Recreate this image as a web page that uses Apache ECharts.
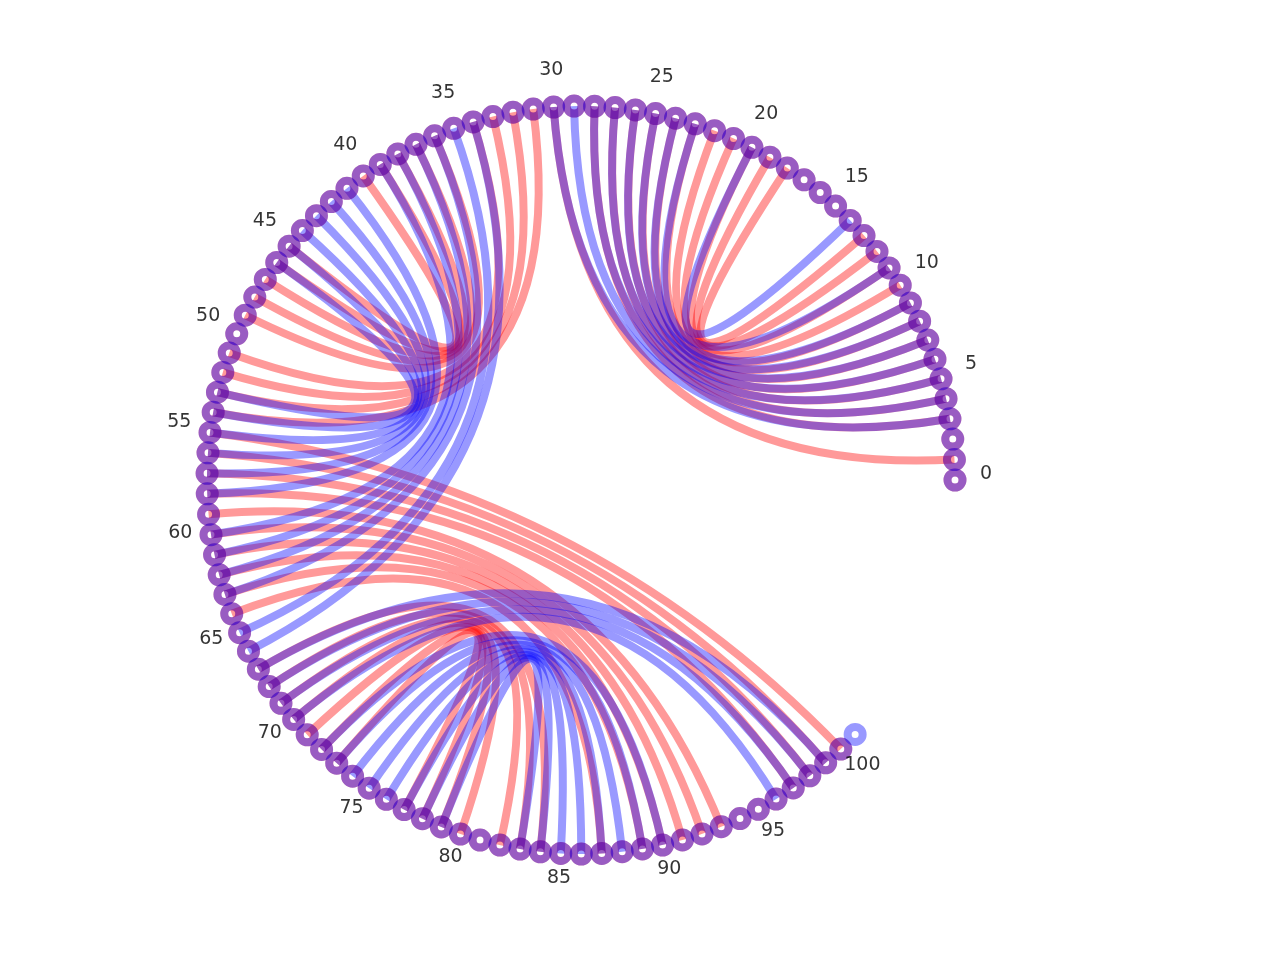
<!DOCTYPE html>
<html>
<head>
<meta charset="utf-8">
<script src="https://cdn.jsdelivr.net/npm/echarts@6/dist/echarts.min.js"></script>
<style>
html, body { margin: 0; background: #fff; }
#main { width: 1280px; height: 960px; }
</style>
</head>
<body>
<div id="main"></div>
<script>
// 两个结构的节点数 (红: 0..100, 蓝: 0..101)
var redCount = 101;
var blueCount = 102;

// 红色结构的配对
var redPairs = [
    [1, 30], [3, 28], [4, 27], [5, 26], [6, 25], [7, 24], [8, 23], [9, 22], [10, 21], [11, 20], [12, 19], [13, 18],
    [31, 54], [32, 53], [33, 52], [34, 51], [36, 49], [37, 48], [38, 47], [39, 46], [40, 45],
    [55, 100], [56, 99], [57, 98], [58, 97], [59, 93], [60, 92], [61, 91], [62, 90], [63, 89], [64, 87],
    [67, 84], [68, 83], [69, 82], [70, 80], [71, 79], [72, 78], [73, 77]
];

// 蓝色结构的配对
var bluePairs = [
    [3, 30], [4, 29], [5, 28], [6, 27], [7, 26], [8, 25], [9, 24], [11, 23], [14, 20],
    [34, 66], [35, 65], [36, 63], [37, 62], [38, 61], [39, 60], [41, 58], [42, 57], [43, 56], [44, 55], [45, 54], [46, 53],
    [67, 99], [68, 98], [69, 97], [70, 96], [72, 90], [73, 89], [74, 88], [75, 87], [76, 86], [77, 85], [78, 84], [79, 83]
];

// 刻度标签
var tickLabels = [0, 5, 10, 15, 20, 25, 30, 35, 40, 45, 50, 55, 60, 65, 70, 75, 80, 85, 90, 95, 100];

// 一整圈对应多少个节点
var turn = 114.65;

// 让贝塞尔曲线的控制点落在圆心
function curveOf(a, b) {
    var d = (b - a) / turn * 2 * Math.PI;
    return 0.5 / Math.tan(d / 2);
}

function makeNodes(n) {
    var arr = [];
    for (var i = 0; i < n; i++) {
        arr.push({ name: String(i), value: [1, i] });
    }
    return arr;
}

function makeLinks(pairs) {
    return pairs.map(function (p) {
        return {
            source: String(p[0]),
            target: String(p[1]),
            lineStyle: { curveness: curveOf(p[0], p[1]) }
        };
    });
}

function graphSeries(n, pairs, rgb) {
    return {
        type: 'graph',
        coordinateSystem: 'polar',
        layout: 'none',
        silent: true,
        symbol: 'circle',
        symbolSize: 15,
        itemStyle: {
            color: 'rgba(0,0,0,0)',
            borderColor: 'rgba(' + rgb + ',0.4)',
            borderWidth: 8
        },
        lineStyle: {
            color: 'rgba(' + rgb + ',0.4)',
            width: 8,
            opacity: 1
        },
        data: makeNodes(n),
        links: makeLinks(pairs)
    };
}

var myChart = echarts.init(document.getElementById('main'));

var option = {
    backgroundColor: '#fff',
    animation: false,
    polar: {
        center: [581, 480],
        radius: 374
    },
    angleAxis: {
        type: 'value',
        min: 0,
        max: turn,
        startAngle: 0,
        clockwise: false,
        show: false
    },
    radiusAxis: {
        type: 'value',
        min: 0,
        max: 1,
        show: false
    },
    series: [
        graphSeries(redCount, redPairs, '255,0,0'),
        graphSeries(blueCount, bluePairs, '0,0,255'),
        {
            type: 'scatter',
            coordinateSystem: 'polar',
            clip: false,
            silent: true,
            symbolSize: 0,
            data: tickLabels.map(function (v) { return [1.083, v]; }),
            label: {
                show: true,
                position: 'inside',
                offset: [0, -6],
                formatter: function (p) { return p.value[1]; },
                color: '#000',
                fontSize: 19,
                fontFamily: 'DejaVu Sans'
            }
        }
    ]
};

myChart.setOption(option);
</script>
</body>
</html>
